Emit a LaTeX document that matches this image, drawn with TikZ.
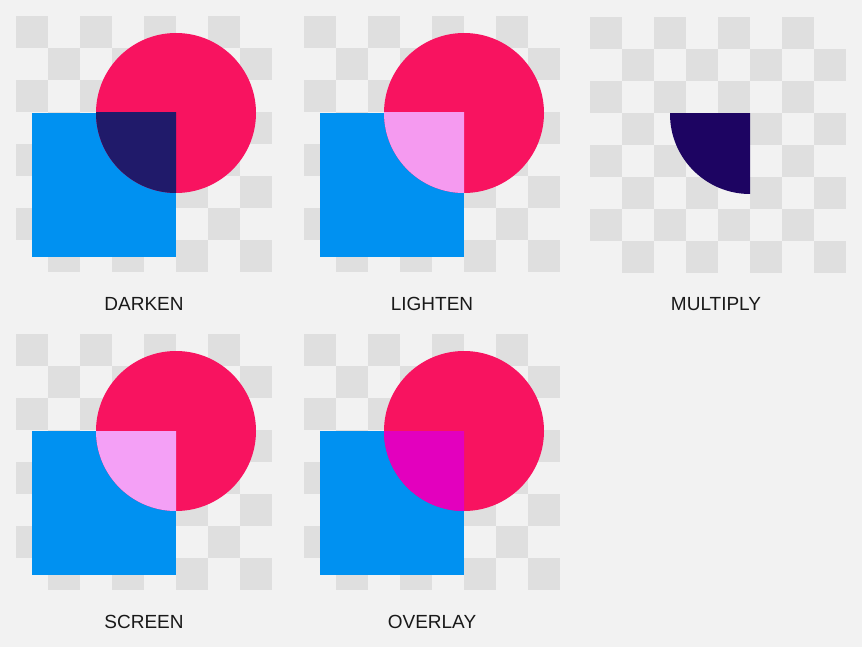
\documentclass[tikz,border=0pt]{standalone}
\usepackage{fontspec}
\setmainfont{Liberation Sans}
\definecolor{bg}{HTML}{F2F2F2}
\definecolor{checkdark}{HTML}{DFDFDF}
\definecolor{pinkc}{HTML}{F81360}
\definecolor{bluec}{HTML}{0091F1}
\definecolor{darkenc}{HTML}{201A6A}
\definecolor{lightenc}{HTML}{F59AF0}
\definecolor{screenc}{HTML}{F4A0F6}
\definecolor{overlayc}{HTML}{E300BE}
\definecolor{multiplyc}{HTML}{1D0462}
\newcommand\mychecker[2]{%
  \foreach \i in {0,...,7}{\foreach \j in {0,...,7}{%
    \pgfmathtruncatemacro\k{mod(\i+\j,2)}%
    \ifnum\k=0 \fill[checkdark] ({#1+32*\i},{#2+32*\j}) rectangle +(32,32);\fi}}}
\newcommand\blendpanel[3]{%
  \mychecker{#1}{#2}
  \fill[bluec] ({#1+16},{#2+97}) rectangle ({#1+160},{#2+241});
  \fill[pinkc] ({#1+160},{#2+97}) circle (80pt);
  \begin{scope}
    \clip ({#1+16},{#2+97}) rectangle ({#1+160},{#2+241});
    \fill[#3] ({#1+160},{#2+97}) circle (80pt);
  \end{scope}}
\tikzset{lbl/.style={anchor=base, inner sep=0pt, font=\fontsize{19}{22}\selectfont, text=black!90}}
\begin{document}
\begin{tikzpicture}[x=1pt,y=-1pt]
\fill[bg] (0,0) rectangle (862,647);
\useasboundingbox (0,0) rectangle (862,647);
% row 1
\blendpanel{16}{16}{darkenc}
\blendpanel{304}{16}{lightenc}
\mychecker{590}{17}
\begin{scope}
  \clip (670,114) rectangle (750,194);
  \fill[multiplyc] (750,114) circle (80pt);
\end{scope}
% row 2
\blendpanel{16}{334}{screenc}
\blendpanel{304}{334}{overlayc}
% labels
\node[lbl] (darken) at (144,310) {DARKEN};
\node[lbl] (lighten) at (432,310) {LIGHTEN};
\node[lbl] (multiply) at (716,310) {MULTIPLY};
\node[lbl] (screen) at (144,628) {SCREEN};
\node[lbl] (overlay) at (432,628) {OVERLAY};
\end{tikzpicture}
\end{document}
